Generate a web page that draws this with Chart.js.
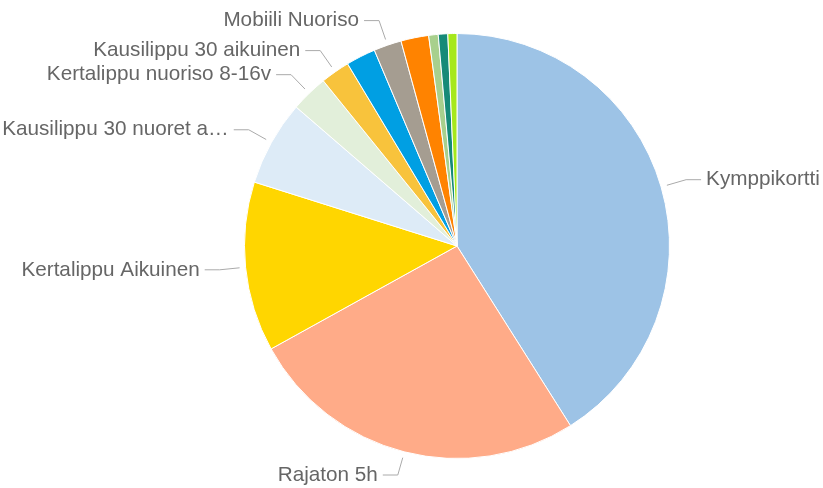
<!DOCTYPE html>
<html>

<head>
  <meta charset="utf-8">
  <title>Lipputyypit</title>
  <script src="https://cdn.jsdelivr.net/npm/chart.js"></script>
  <style>
    body {
      margin: 0;
      background: #fff;
    }

    #chartContainer {
      width: 823px;
      height: 488px;
    }
  </style>
</head>

<body>
  <div id="chartContainer">
    <canvas id="myChart" width="823" height="488"></canvas>
  </div>

  <script>
    // ticket types, clockwise from 12 o'clock
    const ticketTypes = [
      'Kymppikortti',
      'Rajaton 5h',
      'Kertalippu Aikuinen',
      'Kausilippu 30 nuoret a…',
      'Kertalippu nuoriso 8-16v',
      'Kausilippu 30 aikuinen',
      'Muu 1',
      'Mobiili Nuoriso',
      'Muu 2',
      'Muu 3',
      'Muu 4',
      'Muu 5'
    ];
    // share of sales (%)
    const shares = [41.0, 25.9, 12.9, 6.47, 2.83, 2.22, 2.25, 2.11, 2.11, 0.72, 0.72, 0.69];
    // which slices get an outside label in the original
    const showLabel = [true, true, true, true, true, true, false, true, false, false, false, false];
    const sliceColors = [
      '#9DC3E6', '#FFAB88', '#FFD600', '#DDEBF7', '#E2EFDA', '#F8C33C',
      '#009FE3', '#A59D91', '#FF8300', '#A8D08D', '#168A78', '#A6E81C'
    ];

    // outside labels with bent leader lines
    const pieLabels = {
      id: 'pieLabels',
      afterDatasetsDraw(chart) {
        const ctx = chart.ctx;
        const meta = chart.getDatasetMeta(0);
        ctx.save();
        ctx.font = '20.7px "Liberation Sans", Arial, sans-serif';
        ctx.textBaseline = 'middle';
        meta.data.forEach((arc, i) => {
          if (!showLabel[i]) return;
          const a = (arc.startAngle + arc.endAngle) / 2;
          const r = arc.outerRadius;
          const right = Math.cos(a) >= 0;
          const dir = right ? 1 : -1;
          const tx = arc.x + (r + 6) * Math.cos(a);
          const ty = arc.y + (r + 6) * Math.sin(a);
          const bx = arc.x + (r + 26) * Math.cos(a);
          let by = arc.y + (r + 26) * Math.sin(a);
          by = Math.min(Math.max(by, 19), chart.height - 13);
          const lx = bx + dir * 15;

          ctx.strokeStyle = '#aaaaaa';
          ctx.lineWidth = 1;
          ctx.beginPath();
          ctx.moveTo(tx, ty);
          ctx.lineTo(bx, by);
          ctx.lineTo(lx, by);
          ctx.stroke();

          ctx.fillStyle = '#666666';
          ctx.textAlign = right ? 'left' : 'right';
          ctx.fillText(chart.data.labels[i], lx + dir * 5, by);
        });
        ctx.restore();
      }
    };

    const ctx = document.getElementById('myChart').getContext('2d');
    new Chart(ctx, {
      type: 'pie',
      data: {
        labels: ticketTypes,
        datasets: [{
          data: shares,
          backgroundColor: sliceColors,
          borderColor: '#ffffff',
          borderWidth: 1
        }]
      },
      options: {
        responsive: false,
        animation: false,
        layout: {
          padding: { left: 244, right: 153, top: 33, bottom: 29 }
        },
        plugins: {
          legend: { display: false },
          tooltip: { enabled: false }
        }
      },
      plugins: [pieLabels]
    });
  </script>
</body>

</html>
